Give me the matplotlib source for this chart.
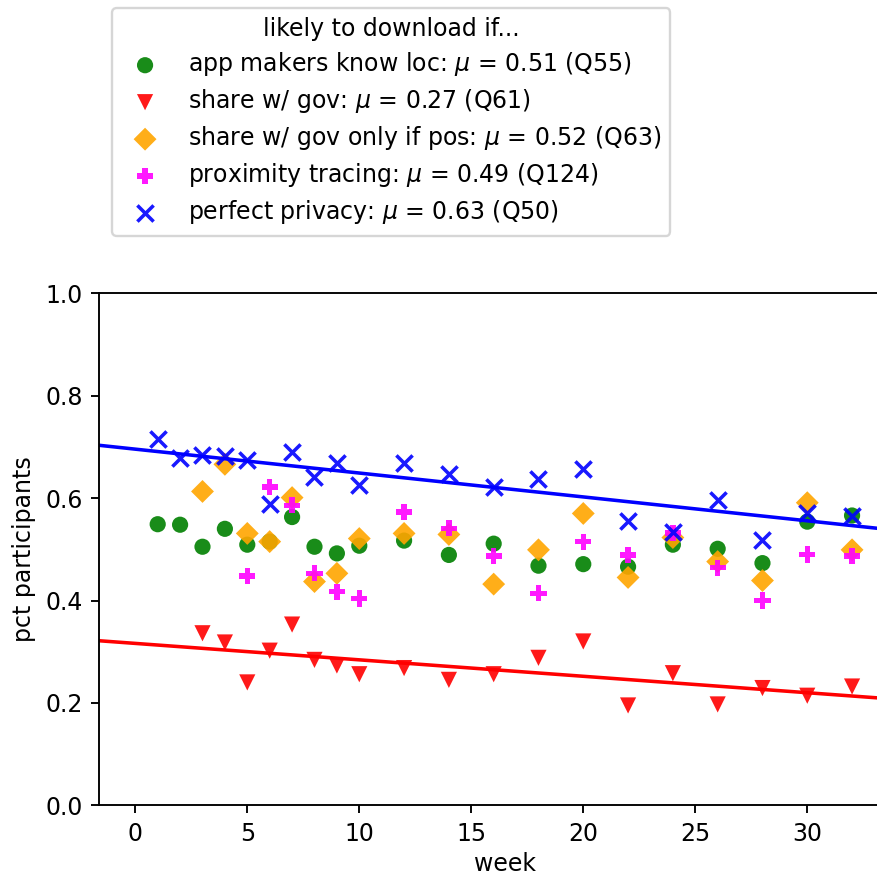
import numpy as np
import matplotlib
matplotlib.use("Agg")
import matplotlib.pyplot as plt

weeks_all = [1, 2, 3, 4, 5, 6, 7, 8, 9, 10, 12, 14, 16, 18, 20, 22, 24, 26, 28, 30, 32]
weeks_from3 = [3, 4, 5, 6, 7, 8, 9, 10, 12, 14, 16, 18, 20, 22, 24, 26, 28, 30, 32]
weeks_from5 = [5, 6, 7, 8, 9, 10, 12, 14, 16, 18, 20, 22, 24, 26, 28, 30, 32]

app_makers = [0.549, 0.548, 0.505, 0.540, 0.509, 0.515, 0.563, 0.505, 0.492, 0.507,
              0.517, 0.489, 0.511, 0.468, 0.471, 0.466, 0.509, 0.501, 0.473, 0.554, 0.566]
share_gov = [0.336, 0.318, 0.240, 0.302, 0.353, 0.284, 0.273, 0.256, 0.268, 0.245,
             0.256, 0.288, 0.320, 0.195, 0.258, 0.197, 0.229, 0.214, 0.232]
share_gov_pos = [0.613, 0.666, 0.531, 0.515, 0.601, 0.437, 0.453, 0.521, 0.531, 0.529,
                 0.432, 0.499, 0.570, 0.445, 0.523, 0.476, 0.439, 0.591, 0.499]
proximity = [0.448, 0.622, 0.586, 0.453, 0.417, 0.404, 0.573, 0.541, 0.487, 0.414,
             0.515, 0.489, 0.532, 0.464, 0.400, 0.490, 0.487]
perfect_privacy = [0.716, 0.679, 0.685, 0.682, 0.674, 0.589, 0.690, 0.641, 0.669, 0.625,
                   0.669, 0.647, 0.622, 0.637, 0.657, 0.555, 0.533, 0.596, 0.519, 0.571, 0.566]

labels = ["app makers know loc: $\\mu$ = 0.51 (Q55)",
          "share w/ gov: $\\mu$ = 0.27 (Q61)",
          "share w/ gov only if pos: $\\mu$ = 0.52 (Q63)",
          "proximity tracing: $\\mu$ = 0.49 (Q124)",
          "perfect privacy: $\\mu$ = 0.63 (Q50)"]
legend_title = "likely to download if..."

series = [
    (weeks_all, app_makers, "green", "o", False),
    (weeks_from3, share_gov, "red", "v", True),
    (weeks_from3, share_gov_pos, "orange", "D", False),
    (weeks_from5, proximity, "magenta", "P", False),
    (weeks_all, perfect_privacy, "blue", "x", True),
]

DPI = 170
fig = plt.figure(figsize=(877 / DPI, 877 / DPI), dpi=DPI)
ax = fig.add_axes([99.3 / 877, 1 - 805.3 / 877, 811 / 877, 512 / 877])
xlim = (-1.607, 34.6)
ax.set_xlim(*xlim)
ax.set_ylim(0.0, 1.0)

for (wx, wy, col, mk, fit), lab in zip(series, labels):
    ax.scatter(wx, wy, color=col, marker=mk, s=47, alpha=0.9, label=lab,
               linewidths=1.5 if mk == "x" else 0.5, edgecolors=None if mk == "x" else "none")
    if fit:
        b, a = np.polyfit(wx, wy, 1)
        xs = np.array(xlim)
        ax.plot(xs, a + b * xs, color=col, lw=1.5)

ax.set_xticks([0, 5, 10, 15, 20, 25, 30])
ax.set_yticks([0.0, 0.2, 0.4, 0.6, 0.8, 1.0])
ax.set_xlabel("week", labelpad=2.5)
ax.set_ylabel("pct participants")

fig.legend(loc="upper left", bbox_to_anchor=(112 / 877, 1 - 8 / 877),
           bbox_transform=fig.transFigure, title=legend_title,
           title_fontsize=10, fontsize=10, borderaxespad=0, labelspacing=0.38)

fig.savefig("out.png", dpi=DPI)
